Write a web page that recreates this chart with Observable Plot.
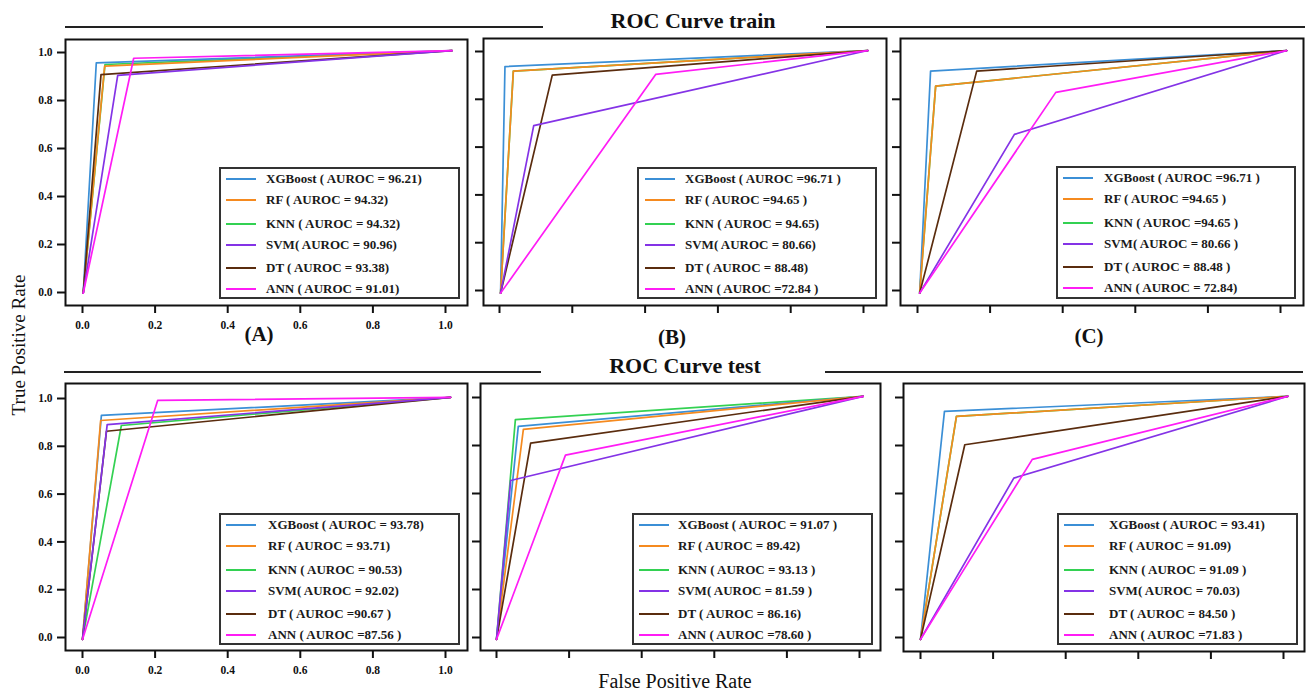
<!DOCTYPE html>
<html><head><meta charset="utf-8">
<script src="https://cdn.jsdelivr.net/npm/d3@7"></script>
<script src="https://cdn.jsdelivr.net/npm/@observablehq/plot@0.6"></script>
<style>
body{margin:0;background:#fff;}
#wrap{position:relative;width:1306px;height:693px;overflow:hidden;font-family:'Liberation Serif','Times New Roman',serif;color:#111;background:#fff;}
.hline{position:absolute;height:2px;background:#222;}
.ctr{position:absolute;transform:translate(-50%,-50%);white-space:nowrap;}
.legend{position:absolute;border:2px solid #333;background:#fff;box-sizing:border-box;}
.legend .row{position:absolute;left:0;right:0;height:16px;transform:translateY(-50%);white-space:nowrap;}
.legend .sw{position:absolute;top:7px;width:30px;height:2px;}
.legend .tx{position:absolute;top:0;line-height:16px;font-weight:bold;font-size:13px;color:#1a1a1a;font-family:'Liberation Serif','Times New Roman',serif;}
.plotbox{position:absolute;}
.plotbox svg text{font-family:'Liberation Serif','Times New Roman',serif !important;}
</style></head>
<body><div id="wrap"></div>
<script>
// ---------------- data ----------------
const models = ["XGBoost", "RF", "KNN", "SVM", "DT", "ANN"];
const modelColors = ["#3b8fd6", "#f58a1f", "#33d152", "#8433e6", "#5a2c0e", "#ff1cf5"];
const drawOrder = ["KNN", "XGBoost", "RF", "DT", "SVM", "ANN"];
const panelIds = ["A", "B", "C", "D", "E", "F"];
const xTicks = [0, 0.2, 0.4, 0.6, 0.8, 1.0];
const yTicks = [0, 0.2, 0.4, 0.6, 0.8, 1.0];

// ROC corner points (false positive rate, true positive rate) per panel, in model order
const fprA = [0.038, 0.061, 0.062, 0.097, 0.051, 0.141];
const tprA = [0.957, 0.943, 0.950, 0.905, 0.908, 0.976];
const fprB = [0.015, 0.038, 0.038, 0.094, 0.145, 0.429];
const tprB = [0.937, 0.918, 0.918, 0.690, 0.901, 0.904];
const fprC = [0.036, 0.050, 0.050, 0.267, 0.163, 0.381];
const tprC = [0.918, 0.855, 0.855, 0.653, 0.918, 0.829];
const fprD = [0.052, 0.050, 0.107, 0.068, 0.066, 0.207];
const tprD = [0.929, 0.908, 0.887, 0.891, 0.863, 0.992];
const fprE = [0.060, 0.074, 0.052, 0.039, 0.094, 0.190];
const tprE = [0.880, 0.867, 0.908, 0.654, 0.810, 0.760];
const fprF = [0.066, 0.099, 0.099, 0.257, 0.122, 0.308];
const tprF = [0.942, 0.921, 0.921, 0.664, 0.803, 0.742];

// start and end of every curve, per panel (as drawn in the figure)
const startFpr = [0.002, 0.003, 0.006, 0, 0, 0];
const startTpr = [-0.003, -0.011, -0.011, -0.008, -0.008, -0.008];
const endFpr = [1.018, 1.012, 1.017, 1.014, 1.010, 1.012];
const endTpr = [1.008, 1.004, 1.004, 1.005, 1.005, 1.005];

const legendA = ["XGBoost ( AUROC = 96.21)", "RF ( AUROC = 94.32)", "KNN ( AUROC = 94.32)", "SVM( AUROC = 90.96)", "DT ( AUROC = 93.38)", "ANN ( AUROC = 91.01)"];
const legendB = ["XGBoost ( AUROC =96.71 )", "RF ( AUROC =94.65 )", "KNN ( AUROC = 94.65)", "SVM( AUROC = 80.66)", "DT ( AUROC = 88.48)", "ANN ( AUROC =72.84 )"];
const legendC = ["XGBoost ( AUROC =96.71 )", "RF ( AUROC =94.65 )", "KNN ( AUROC =94.65 )", "SVM( AUROC = 80.66 )", "DT ( AUROC = 88.48 )", "ANN ( AUROC = 72.84)"];
const legendD = ["XGBoost ( AUROC = 93.78)", "RF ( AUROC = 93.71)", "KNN ( AUROC = 90.53)", "SVM( AUROC = 92.02)", "DT ( AUROC =90.67 )", "ANN ( AUROC =87.56 )"];
const legendE = ["XGBoost ( AUROC = 91.07 )", "RF ( AUROC = 89.42)", "KNN ( AUROC = 93.13 )", "SVM( AUROC = 81.59 )", "DT ( AUROC = 86.16)", "ANN ( AUROC =78.60 )"];
const legendF = ["XGBoost ( AUROC = 93.41)", "RF ( AUROC = 91.09)", "KNN ( AUROC = 91.09 )", "SVM( AUROC = 70.03)", "DT ( AUROC = 84.50 )", "ANN ( AUROC =71.83 )"];

const rowTitles = ["ROC Curve train", "ROC Curve test"];
const panelTags = ["(A)", "(B)", "(C)"];
const yTitle = "True Positive Rate";
const xTitle = "False Positive Rate";

// ---------------- layout (pixels) ----------------
const layout = {
  A: {frame: [65, 39, 467, 305], x0: 82, x1: 445, y0: 292, y1: 52, xLab: true, yLab: true, leg: [219, 167, 241, 132], sw: 5, tx: 45},
  B: {frame: [483, 38, 886, 305], x0: 499, x1: 863, y0: 290, y1: 51, xLab: false, yLab: false, leg: [637, 167, 240, 132], sw: 6, tx: 46},
  C: {frame: [900, 38, 1303, 305], x0: 917, x1: 1280, y0: 290, y1: 51, xLab: false, yLab: false, leg: [1056, 166, 240, 133], sw: 5, tx: 46},
  D: {frame: [65, 383, 467, 650], x0: 82, x1: 445, y0: 637, y1: 398, xLab: true, yLab: true, leg: [219, 513, 241, 132], sw: 5, tx: 47},
  E: {frame: [480, 383, 880, 650], x0: 496, x1: 859, y0: 637, y1: 397, xLab: false, yLab: false, leg: [632, 513, 241, 132], sw: 5, tx: 44},
  F: {frame: [903, 383, 1304, 651], x0: 920, x1: 1283, y0: 637, y1: 397, xLab: false, yLab: false, leg: [1057, 513, 241, 132], sw: 5, tx: 50}
};
const legendRowY = [10, 31, 55, 76, 99, 120];

const corners = {A: [fprA, tprA], B: [fprB, tprB], C: [fprC, tprC], D: [fprD, tprD], E: [fprE, tprE], F: [fprF, tprF]};
const legends = {A: legendA, B: legendB, C: legendC, D: legendD, E: legendE, F: legendF};

const wrap = document.getElementById("wrap");
const FONT = "'Liberation Serif', 'Times New Roman', serif";

function addDiv(cls, css, text) {
  const d = document.createElement("div");
  d.className = cls;
  Object.assign(d.style, css);
  if (text != null) d.textContent = text;
  wrap.appendChild(d);
  return d;
}

panelIds.forEach((id, p) => {
  const L = layout[id];
  const [fl, ft, fr, fb] = L.frame;
  const kx = L.x1 - L.x0, ky = L.y0 - L.y1;
  const xDom = [(fl - L.x0) / kx, (fr - L.x0) / kx];
  const yDom = [-(fb - L.y0) / ky, 1 + (L.y1 - ft) / ky];
  const [fp, tp] = corners[id];
  const rows = [];
  drawOrder.forEach(m => {
    const i = models.indexOf(m);
    rows.push({model: m, fpr: startFpr[p], tpr: startTpr[p]});
    rows.push({model: m, fpr: fp[i], tpr: tp[i]});
    rows.push({model: m, fpr: endFpr[p], tpr: endTpr[p]});
  });
  const mL = 60, mR = 6, mT = 6, mB = 34;
  const chart = Plot.plot({
    width: (fr - fl) + mL + mR,
    height: (fb - ft) + mT + mB,
    marginLeft: mL, marginRight: mR, marginTop: mT, marginBottom: mB,
    style: {background: "transparent", overflow: "visible", fontFamily: FONT, fontSize: "11.5px", fontWeight: "bold", color: "#111", maxWidth: "none"},
    x: {domain: xDom},
    y: {domain: yDom},
    color: {domain: models, range: modelColors},
    marks: [
      Plot.axisX({ticks: xTicks, tickSize: 8, tickPadding: 7, strokeWidth: 2, label: null, fontFamily: FONT, fontWeight: "bold",
        tickFormat: L.xLab ? (d => d.toFixed(1)) : (() => "")}),
      Plot.axisY({ticks: yTicks, tickSize: 8, tickPadding: 5, strokeWidth: 2, label: null, fontFamily: FONT, fontWeight: "bold",
        tickFormat: L.yLab ? (d => d.toFixed(1)) : (() => "")}),
      Plot.line(rows, {x: "fpr", y: "tpr", z: "model", stroke: "model", strokeWidth: 1.7}),
      Plot.frame({stroke: "#111", strokeWidth: 2})
    ]
  });
  const box = document.createElement("div");
  box.className = "plotbox";
  box.style.left = (fl - mL) + "px";
  box.style.top = (ft - mT) + "px";
  box.appendChild(chart);
  wrap.appendChild(box);

  // legend (HTML, inside the panel)
  const [lx, ly, lw, lh] = L.leg;
  const lg = addDiv("legend", {left: lx + "px", top: ly + "px", width: lw + "px", height: lh + "px"});
  models.forEach((m, i) => {
    const r = document.createElement("div");
    r.className = "row";
    r.style.top = legendRowY[i] + "px";
    const s = document.createElement("div");
    s.className = "sw";
    s.style.left = L.sw + "px";
    s.style.background = modelColors[i];
    const t = document.createElement("div");
    t.className = "tx";
    t.style.left = L.tx + "px";
    t.textContent = legends[id][i];
    r.appendChild(s); r.appendChild(t);
    lg.appendChild(r);
  });
});

// row titles and rules
addDiv("hline", {left: "65px", top: "26px", width: "478px"});
addDiv("hline", {left: "826px", top: "26px", width: "479px"});
addDiv("ctr", {left: "693px", top: "21px", fontSize: "22px", fontWeight: "bold"}, rowTitles[0]);
addDiv("hline", {left: "64px", top: "371px", width: "477px"});
addDiv("hline", {left: "825px", top: "371px", width: "478px"});
addDiv("ctr", {left: "685px", top: "366px", fontSize: "22px", fontWeight: "bold"}, rowTitles[1]);

// panel tags
addDiv("ctr", {left: "259px", top: "334px", fontSize: "21px", fontWeight: "bold"}, panelTags[0]);
addDiv("ctr", {left: "672px", top: "337px", fontSize: "21px", fontWeight: "bold"}, panelTags[1]);
addDiv("ctr", {left: "1089px", top: "336px", fontSize: "21px", fontWeight: "bold"}, panelTags[2]);

// axis titles
addDiv("ctr", {left: "19px", top: "345px", fontSize: "19px", transform: "translate(-50%,-50%) rotate(-90deg)"}, yTitle);
addDiv("ctr", {left: "675px", top: "681px", fontSize: "20px"}, xTitle);
</script></body></html>
